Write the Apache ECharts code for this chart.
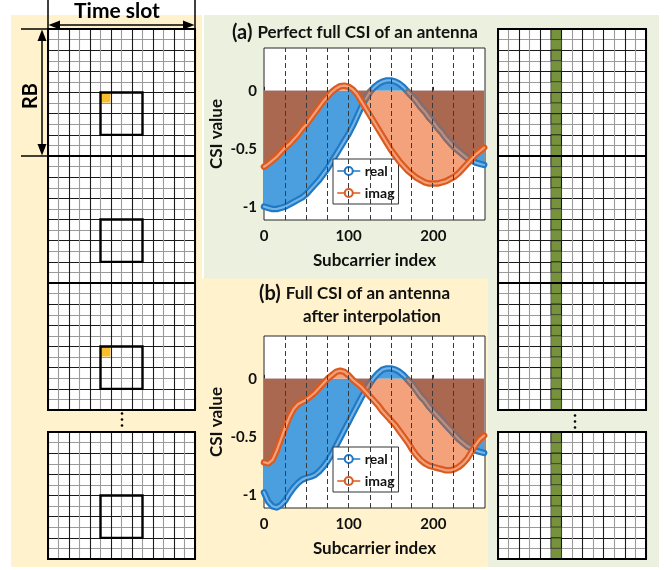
<!DOCTYPE html>
<html><head><meta charset="utf-8">
<script src="https://cdn.jsdelivr.net/npm/echarts@6/dist/echarts.min.js"></script>
<style>html,body{margin:0;padding:0;background:#fff}#c{width:672px;height:570px}</style>
</head><body><div id="c"></div>
<script>
// ---------- data ----------
const subcarriers = [0,5,10,15,20,25,30,35,40,45,50,55,60,65,70,75,80,85,90,95,100,105,110,115,120,125,130,135,140,145,150,155,160,165,170,175,180,185,190,195,200,205,210,215,220,225,230,235,240,245,250,255,260];
const realA = [-1.00,-1.01,-1.02,-1.02,-1.01,-1.00,-0.98,-0.96,-0.94,-0.92,-0.89,-0.85,-0.81,-0.77,-0.72,-0.67,-0.61,-0.55,-0.49,-0.43,-0.37,-0.30,-0.22,-0.14,-0.07,-0.01,0.03,0.06,0.08,0.09,0.09,0.08,0.06,0.03,-0.01,-0.05,-0.09,-0.14,-0.18,-0.23,-0.27,-0.32,-0.36,-0.41,-0.45,-0.49,-0.52,-0.55,-0.58,-0.60,-0.62,-0.63,-0.64];
const imagA = [-0.655,-0.63,-0.60,-0.57,-0.53,-0.49,-0.46,-0.42,-0.38,-0.33,-0.29,-0.24,-0.19,-0.14,-0.09,-0.05,-0.01,0.02,0.04,0.045,0.035,0.01,-0.03,-0.09,-0.15,-0.21,-0.27,-0.33,-0.39,-0.45,-0.51,-0.56,-0.61,-0.65,-0.69,-0.72,-0.75,-0.77,-0.79,-0.80,-0.80,-0.80,-0.79,-0.78,-0.76,-0.74,-0.71,-0.67,-0.63,-0.59,-0.55,-0.52,-0.49];
const realB = [-0.98,-1.06,-1.10,-1.11,-1.09,-1.05,-0.99,-0.94,-0.90,-0.87,-0.855,-0.845,-0.83,-0.80,-0.76,-0.71,-0.65,-0.58,-0.51,-0.44,-0.37,-0.30,-0.23,-0.16,-0.10,-0.04,0.01,0.05,0.08,0.09,0.09,0.08,0.06,0.03,-0.01,-0.05,-0.10,-0.15,-0.19,-0.24,-0.28,-0.32,-0.36,-0.40,-0.44,-0.48,-0.52,-0.55,-0.58,-0.60,-0.62,-0.63,-0.64];
const imagB = [-0.72,-0.73,-0.70,-0.62,-0.52,-0.42,-0.33,-0.26,-0.22,-0.20,-0.18,-0.15,-0.12,-0.08,-0.04,0.00,0.03,0.06,0.07,0.06,0.03,-0.01,-0.04,-0.07,-0.11,-0.15,-0.19,-0.23,-0.28,-0.32,-0.36,-0.40,-0.45,-0.50,-0.55,-0.61,-0.66,-0.70,-0.73,-0.75,-0.76,-0.77,-0.78,-0.79,-0.79,-0.78,-0.76,-0.73,-0.69,-0.63,-0.57,-0.52,-0.49];
const pilotLines = [25, 50, 75, 100, 125, 150, 174, 199, 223, 247];
const xTicks = [0, 100, 200];
const yTicks = [-1, -0.5, 0];
const seriesNames = ['real', 'imag'];
const titleA = ['(a)', 'Perfect full CSI of an antenna'];
const titleB = ['(b)', 'Full CSI of an antenna', 'after interpolation'];
const axisNames = ['Subcarrier index', 'CSI value'];

// resource grid schematic
const gridCols = 14, gridRows = 12;
const pilotBox = [5, 6, 4, 4];   // col, row, width, height
const pilotCell = [5, 6];
const leftBlockHasPilot = [true, false, true, false];
const greenCol = 5;

// ---------- build ----------
const FONT = 'Lato';
const TXT = '#111';
const grids = [], xAxes = [], yAxes = [], series = [], legends = [];

function band(gi, name, data, outer, inner, z, silent, legendSym) {
  series.push({type: 'line', name: name, xAxisIndex: gi, yAxisIndex: gi, data: data, z: z, silent: !!silent,
    symbol: legendSym ? 'emptyCircle' : 'none', showSymbol: false, symbolSize: 8, connectNulls: false,
    lineStyle: {color: outer, width: 6.5, cap: 'round', join: 'round'},
    itemStyle: {color: outer, borderColor: outer, borderWidth: 1.5}});
  series.push({type: 'line', name: name + '_inner', xAxisIndex: gi, yAxisIndex: gi, data: data, z: z, silent: true,
    symbol: 'none', showSymbol: false, connectNulls: false,
    lineStyle: {color: inner, width: 2.2, cap: 'round', join: 'round'}});
}

function addCsi(top, real, imag) {
  const gi = grids.length;
  grids.push({left: 264, top: top, width: 221, height: 172, show: true, backgroundColor: '#fff', borderColor: '#262626', borderWidth: 1});
  const lab = {fontFamily: FONT, fontWeight: 'bold', fontSize: 15, color: TXT};
  xAxes.push({gridIndex: gi, type: 'value', min: 0, max: 261,
    axisLine: {show: false}, splitLine: {show: false},
    axisTick: {show: true, inside: true, length: 4, customValues: xTicks, lineStyle: {color: '#262626'}},
    axisLabel: Object.assign({customValues: xTicks, margin: 9}, lab),
    name: axisNames[0], nameLocation: 'middle', nameGap: 32,
    nameTextStyle: {fontFamily: FONT, fontWeight: 'bold', fontSize: 17, color: TXT}});
  yAxes.push({gridIndex: gi, type: 'value', min: -1.115, max: 0.37,
    axisLine: {show: false}, splitLine: {show: false},
    axisTick: {show: true, inside: true, length: 4, customValues: yTicks, lineStyle: {color: '#262626'}},
    axisLabel: Object.assign({customValues: yTicks, margin: 7}, lab),
    name: axisNames[1], nameLocation: 'middle', nameGap: 39,
    nameTextStyle: {fontFamily: FONT, fontWeight: 'bold', fontSize: 17, color: TXT}});
  const pairs = arr => subcarriers.map((s, i) => [s, arr[i]]);
  const overlap = real.map((r, i) => {
    const m = imag[i];
    return r * m > 0 ? Math.sign(r) * Math.min(Math.abs(r), Math.abs(m)) : 0;
  });
  // portion of the real curve that lies inside the imag stems (seen through them)
  const realCovered = real.map((r, i) => {
    const m = imag[i];
    return (r * m > 0 && Math.abs(r) <= Math.abs(m)) ? [subcarriers[i], r] : [subcarriers[i], null];
  });
  const areaBase = {type: 'line', xAxisIndex: gi, yAxisIndex: gi, symbol: 'none', showSymbol: false,
    lineStyle: {width: 0, opacity: 0}, silent: true, z: 2};
  series.push(Object.assign({}, areaBase, {name: 'realArea', data: pairs(real), areaStyle: {color: '#4C9FDF', opacity: 1}}));
  series.push(Object.assign({}, areaBase, {name: 'imagArea', data: pairs(imag), areaStyle: {color: '#F3A27B', opacity: 1}}));
  series.push(Object.assign({}, areaBase, {name: 'overlapArea', data: pairs(overlap), areaStyle: {color: '#A9684F', opacity: 1},
    markLine: {silent: true, symbol: 'none', label: {show: false}, animation: false,
      lineStyle: {color: '#3a3a3a', type: [5, 3], width: 1},
      data: pilotLines.map(v => ({xAxis: v}))}}));
  band(gi, seriesNames[0], pairs(real), '#2079C4', '#74B3E6', 3, false, true);
  band(gi, 'realCovered', realCovered, '#8C6C66', '#B89084', 3, true, false);
  band(gi, seriesNames[1], pairs(imag), '#DB5A20', '#F2A07A', 4, false, true);
  legends.push({data: seriesNames, orient: 'vertical', left: 333, top: top + 111,
    backgroundColor: '#fff', borderColor: '#333', borderWidth: 1, borderRadius: 0,
    padding: [5, 4, 4, 4], itemGap: 8, itemWidth: 22, itemHeight: 10, selectedMode: false,
    itemStyle: {borderWidth: 1.3},
    lineStyle: {width: 1.5},
    textStyle: {fontFamily: FONT, fontWeight: 'bold', fontSize: 14, color: TXT}});
}

function addBlock(left, top, width, height, items) {
  const gi = grids.length;
  grids.push({left: left, top: top, width: width, height: height, show: true, backgroundColor: '#fff', borderWidth: 0});
  const common = {gridIndex: gi, type: 'value', interval: 1, axisLine: {show: false}, axisTick: {show: false}, axisLabel: {show: false},
    splitLine: {show: true, lineStyle: {color: ['#1a1a1a', '#9a9a9a'], width: 1.1}}};
  xAxes.push(Object.assign({min: 0, max: gridCols}, common));
  yAxes.push(Object.assign({min: 0, max: gridRows, inverse: true}, common));
  series.push({type: 'custom', xAxisIndex: gi, yAxisIndex: gi, silent: true, z: 5,
    encode: {x: 0, y: 1}, data: items,
    renderItem: function (params, api) {
      const x = api.value(0), y = api.value(1), w = api.value(2), h = api.value(3), kind = api.value(4);
      const p1 = api.coord([x, y]), p2 = api.coord([x + w, y + h]);
      const rx = Math.min(p1[0], p2[0]), ry = Math.min(p1[1], p2[1]);
      const rw = Math.abs(p2[0] - p1[0]), rh = Math.abs(p2[1] - p1[1]);
      if (kind === 0) return {type: 'rect', shape: {x: rx + 0.5, y: ry + 0.5, width: rw - 1, height: rh - 1}, style: {fill: '#F9BE2E'}};
      if (kind === 2) return {type: 'rect', shape: {x: rx, y: ry, width: rw, height: rh},
        style: {fill: '#76923C', stroke: y % 2 === 0 ? 'rgba(0,0,0,0.75)' : 'rgba(60,60,60,0.55)', lineWidth: 1}};
      return {type: 'rect', shape: {x: rx, y: ry, width: rw, height: rh}, style: {fill: 'none', stroke: '#000', lineWidth: kind === 3 ? 2 : 2.4}};
    }});
}

addCsi(48, realA, imagA);
addCsi(336, realB, imagB);

const blockTops = [29, 156, 283, 432];
blockTops.forEach((t, b) => {
  const items = [[pilotBox[0], pilotBox[1], pilotBox[2], pilotBox[3], 1]];
  if (leftBlockHasPilot[b]) items.unshift([pilotCell[0], pilotCell[1], 1, 1, 0]);
  items.push([0, 0, gridCols, gridRows, 3]);
  addBlock(48, t, 147, 127, items);
});
blockTops.forEach((t) => {
  const items = [];
  for (let r = 0; r < gridRows; r++) items.push([greenCol, r, 1, 1, 2]);
  items.push([0, 0, gridCols, gridRows, 3]);
  addBlock(498, t, 148, 127, items);
});

const graphics = [
  {type: 'rect', z: -10, shape: {x: 11, y: 15, width: 191, height: 552}, style: {fill: '#FFF2CC'}},
  {type: 'rect', z: -10, shape: {x: 204, y: 15, width: 455, height: 552}, style: {fill: '#EBF1DE'}},
  {type: 'rect', z: -9, shape: {x: 202, y: 278.5, width: 286, height: 288.5}, style: {fill: '#FFF2CC'}},
  // Time slot annotation
  {type: 'text', z: 50, x: 117, y: 11, style: {text: 'Time slot', x: 0, y: 0, align: 'center', verticalAlign: 'middle', font: 'bold 21px Lato', fill: '#000'}},
  {type: 'line', z: 50, shape: {x1: 48, y1: 0, x2: 48, y2: 29}, style: {stroke: '#000', lineWidth: 1.5}},
  {type: 'line', z: 50, shape: {x1: 195, y1: 0, x2: 195, y2: 29}, style: {stroke: '#000', lineWidth: 1.5}},
  {type: 'line', z: 50, shape: {x1: 52, y1: 25, x2: 191, y2: 25}, style: {stroke: '#000', lineWidth: 1.5}},
  {type: 'polygon', z: 50, shape: {points: [[48.5, 25], [60, 20.5], [60, 29.5]]}, style: {fill: '#000'}},
  {type: 'polygon', z: 50, shape: {points: [[194.5, 25], [183, 20.5], [183, 29.5]]}, style: {fill: '#000'}},
  // RB annotation
  {type: 'line', z: 50, shape: {x1: 21, y1: 29, x2: 48, y2: 29}, style: {stroke: '#000', lineWidth: 1.5}},
  {type: 'line', z: 50, shape: {x1: 21, y1: 156, x2: 48, y2: 156}, style: {stroke: '#000', lineWidth: 1.5}},
  {type: 'line', z: 50, shape: {x1: 42, y1: 33, x2: 42, y2: 152}, style: {stroke: '#000', lineWidth: 1.5}},
  {type: 'polygon', z: 50, shape: {points: [[42, 29.5], [37.5, 41], [46.5, 41]]}, style: {fill: '#000'}},
  {type: 'polygon', z: 50, shape: {points: [[42, 155.5], [37.5, 144], [46.5, 144]]}, style: {fill: '#000'}},
  {type: 'text', z: 50, x: 31, y: 96, rotation: Math.PI / 2, style: {text: 'RB', x: 0, y: 0, align: 'center', verticalAlign: 'middle', font: 'bold 20px Lato', fill: '#000'}},
  // continuation dots
  {type: 'circle', z: 50, shape: {cx: 122, cy: 413.5, r: 1.3}, style: {fill: '#000'}},
  {type: 'circle', z: 50, shape: {cx: 122, cy: 419.5, r: 1.3}, style: {fill: '#000'}},
  {type: 'circle', z: 50, shape: {cx: 122, cy: 425.5, r: 1.3}, style: {fill: '#000'}},
  {type: 'circle', z: 50, shape: {cx: 575, cy: 415.5, r: 1.3}, style: {fill: '#000'}},
  {type: 'circle', z: 50, shape: {cx: 575, cy: 421.5, r: 1.3}, style: {fill: '#000'}},
  {type: 'circle', z: 50, shape: {cx: 575, cy: 427.5, r: 1.3}, style: {fill: '#000'}}
];

const rich = {p: {fontFamily: FONT, fontWeight: 'bold', fontSize: 20, color: TXT}, t: {fontFamily: FONT, fontWeight: 'bold', fontSize: 17, color: TXT}};
const titles = [
  {text: '{p|' + titleA[0] + '} {t|' + titleA[1] + '}', left: 227, top: 18, textStyle: {rich: rich}},
  {text: '{p|' + titleB[0] + '} {t|' + titleB[1] + '}', left: 254, top: 279, textStyle: {rich: rich}},
  {text: '{t|' + titleB[2] + '}', left: 298, top: 303, textStyle: {rich: rich}}
];

const chart = echarts.init(document.getElementById('c'));
chart.setOption({
  animation: false,
  backgroundColor: '#fff',
  title: titles,
  legend: legends,
  grid: grids,
  xAxis: xAxes,
  yAxis: yAxes,
  series: series,
  graphic: {elements: graphics}
});
</script>
</body></html>
